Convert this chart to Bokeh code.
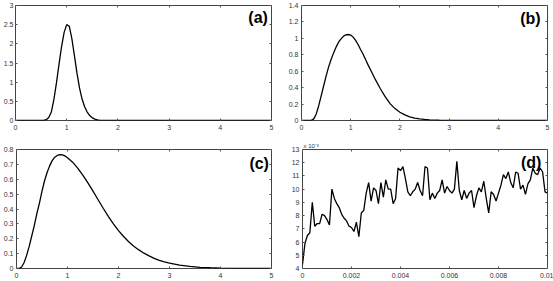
from bokeh.plotting import figure
from bokeh.models import FixedTicker, LinearAxis, Label, Range1d
from bokeh.layouts import row, column
from bokeh.embed import file_html
from bokeh.resources import INLINE

# ---------------- data ----------------
# panel (a)
a_x = [0, 0.5, 0.55, 0.6, 0.65, 0.7, 0.75, 0.8, 0.85, 0.9, 0.95, 1.0, 1.05, 1.1,
       1.15, 1.2, 1.25, 1.3, 1.35, 1.4, 1.45, 1.5, 1.55, 1.6, 1.65, 1.7, 5]
a_y = [0, 0, 0.003, 0.02, 0.08, 0.22, 0.55, 0.98, 1.47, 1.93, 2.30, 2.50, 2.46, 2.14,
       1.70, 1.24, 0.85, 0.56, 0.36, 0.22, 0.13, 0.07, 0.035, 0.015, 0.005, 0, 0]

# panel (b)
b_x = [0, 0.2, 0.25, 0.3, 0.35, 0.4, 0.45, 0.5, 0.55, 0.6, 0.65, 0.7, 0.75, 0.8, 0.85,
       0.9, 0.95, 1.0, 1.05, 1.1, 1.15, 1.2, 1.25, 1.3, 1.35, 1.4, 1.45, 1.5, 1.6, 1.7,
       1.8, 1.9, 2.0, 2.1, 2.2, 2.3, 2.4, 2.5, 2.6, 2.7, 2.8, 2.9, 3.0, 3.2, 5]
b_y = [0, 0.002, 0.02, 0.08, 0.18, 0.30, 0.42, 0.54, 0.65, 0.74, 0.82, 0.89, 0.95, 0.99,
       1.025, 1.042, 1.047, 1.04, 1.015, 0.975, 0.925, 0.865, 0.81, 0.745, 0.68, 0.62,
       0.56, 0.50, 0.39, 0.29, 0.205, 0.145, 0.10, 0.068, 0.045, 0.03, 0.02, 0.013,
       0.008, 0.005, 0.003, 0.0015, 0.0008, 0, 0]

# panel (c)
c_x = [0, 0.05, 0.1, 0.15, 0.2, 0.25, 0.3, 0.35, 0.4, 0.45, 0.5, 0.55, 0.6, 0.65, 0.7,
       0.75, 0.8, 0.85, 0.9, 0.95, 1.0, 1.1, 1.2, 1.3, 1.4, 1.5, 1.6, 1.7, 1.8, 1.9,
       2.0, 2.1, 2.2, 2.3, 2.4, 2.5, 2.6, 2.7, 2.8, 2.9, 3.0, 3.2, 3.4, 3.6, 3.8, 4.0,
       4.2, 4.5, 5]
c_y = [0, 0, 0.01, 0.04, 0.09, 0.15, 0.22, 0.29, 0.37, 0.44, 0.52, 0.59, 0.645, 0.69,
       0.725, 0.748, 0.76, 0.765, 0.764, 0.757, 0.745, 0.715, 0.675, 0.628, 0.576, 0.52,
       0.462, 0.405, 0.35, 0.30, 0.255, 0.215, 0.18, 0.15, 0.125, 0.103, 0.085, 0.068,
       0.055, 0.045, 0.036, 0.023, 0.014, 0.008, 0.005, 0.003, 0.0015, 0.0005, 0]

# panel (d)  (values in units of 1e-3)
d_x = [round(i * 0.0001, 4) for i in range(101)]
d_y = [4.3, 5.9, 6.5, 6.7, 9.0, 7.2, 7.4, 7.4, 8.1, 8.0,
       7.7, 7.3, 10.0, 9.3, 8.9, 8.6, 8.1, 7.8, 7.6, 7.2,
       7.1, 6.8, 7.5, 6.4, 8.2, 8.4, 9.7, 10.5, 9.1, 10.1,
       9.9, 8.9, 10.5, 9.4, 10.7, 10.0, 10.0, 8.9, 9.3, 11.6,
       11.4, 11.7, 10.8, 9.8, 9.5, 9.8, 10.0, 10.5, 9.9, 9.5,
       11.7, 11.6, 9.2, 9.7, 9.3, 9.7, 9.9, 10.7, 9.7, 10.2,
       9.9, 9.7, 10.0, 12.1, 9.9, 9.2, 9.9, 9.3, 9.7, 9.9,
       8.6, 9.5, 10.1, 9.8, 10.6, 9.3, 8.2, 9.8, 9.6, 9.1,
       9.7, 10.3, 11.1, 10.8, 11.3, 10.5, 10.1, 11.3, 11.2, 10.0,
       10.3, 9.6, 10.4, 10.7, 11.6, 11.2, 11.1, 11.6, 11.3, 9.8,
       9.7]

# ticks
ticks_x_05 = [0, 1, 2, 3, 4, 5]
labels_x_05 = ["0", "1", "2", "3", "4", "5"]
ticks_y_a = [0, 0.5, 1, 1.5, 2, 2.5, 3]
labels_y_a = ["0", "0.5", "1", "1.5", "2", "2.5", "3"]
ticks_y_b = [0, 0.2, 0.4, 0.6, 0.8, 1, 1.2, 1.4]
labels_y_b = ["0", "0.2", "0.4", "0.6", "0.8", "1", "1.2", "1.4"]
ticks_y_c = [0, 0.1, 0.2, 0.3, 0.4, 0.5, 0.6, 0.7, 0.8]
labels_y_c = ["0", "0.1", "0.2", "0.3", "0.4", "0.5", "0.6", "0.7", "0.8"]
ticks_x_d = [0, 0.002, 0.004, 0.006, 0.008, 0.01]
labels_x_d = ["0", "0.002", "0.004", "0.006", "0.008", "0.01"]
ticks_y_d = [4, 5, 6, 7, 8, 9, 10, 11, 12, 13]
labels_y_d = ["4", "5", "6", "7", "8", "9", "10", "11", "12", "13"]

panel_names = ["(a)", "(b)", "(c)", "(d)"]
exponent_text = "x 10\u207b\u00b3"

FONT = "Liberation Sans"
TICK_COLOR = "#333333"


def style_axis(ax, ticks, labels, standoff):
    ax.ticker = FixedTicker(ticks=ticks)
    ax.major_label_overrides = {t: l for t, l in zip(ticks, labels)}
    ax.major_label_text_font = FONT
    ax.major_label_text_font_size = "7px"
    ax.major_label_text_color = TICK_COLOR
    ax.major_label_standoff = standoff
    ax.axis_line_color = None
    ax.major_tick_in = 2
    ax.major_tick_out = 0
    ax.major_tick_line_color = "#555555"
    ax.minor_tick_line_color = None


def add_mirror(p, side, ticks):
    ax = LinearAxis(ticker=FixedTicker(ticks=ticks))
    ax.major_label_overrides = {t: "" for t in ticks}
    ax.major_label_text_font_size = "0px"
    ax.major_label_standoff = 0
    ax.axis_line_color = None
    ax.major_tick_in = 2
    ax.major_tick_out = 0
    ax.major_tick_line_color = "#555555"
    ax.minor_tick_line_color = None
    p.add_layout(ax, side)


def make_fig(w, h, bl, br, bt, bb, xr, yr, xt, xl, yt, yl, xs, ys):
    p = figure(width=w, height=h, x_range=Range1d(*xr), y_range=Range1d(*yr),
               output_backend="svg", toolbar_location=None,
               min_border_left=bl, min_border_right=br,
               min_border_top=bt, min_border_bottom=bb)
    p.grid.visible = False
    p.outline_line_color = "#444444"
    p.outline_line_width = 1
    p.background_fill_color = "white"
    p.border_fill_color = "white"
    style_axis(p.xaxis[0], xt, xl, xs)
    style_axis(p.yaxis[0], yt, yl, ys)
    add_mirror(p, "above", xt)
    add_mirror(p, "right", yt)
    return p


def add_tag(p, text, x, y):
    p.add_layout(Label(x=x, y=y, text=text, text_align="right", text_baseline="middle",
                       text_font=FONT, text_font_size="16px", text_font_style="bold",
                       text_color="black"))


pa = make_fig(285, 140, 12, 14, 5, 20, (0, 5), (0, 3),
              ticks_x_05, labels_x_05, ticks_y_a, labels_y_a, 4, 2)
pa.line(a_x, a_y, line_color="black", line_width=1.3)
add_tag(pa, panel_names[0], 4.93, 2.70)

pb = make_fig(268, 140, 15, 6, 5, 20, (0, 5), (0, 1.4),
              ticks_x_05, labels_x_05, ticks_y_b, labels_y_b, 4, 3)
pb.line(b_x, b_y, line_color="black", line_width=1.3)
add_tag(pb, panel_names[1], 4.86, 1.236)

pc = make_fig(285, 141, 16, 14, 9, 13, (0, 5), (0, 0.8),
              ticks_x_05, labels_x_05, ticks_y_c, labels_y_c, 4, 3)
pc.line(c_x, c_y, line_color="black", line_width=1.3)
add_tag(pc, panel_names[2], 4.95, 0.703)

pd = make_fig(268, 141, 17, 6, 9, 13, (0, 0.01), (4, 13),
              ticks_x_d, labels_x_d, ticks_y_d, labels_y_d, 4, 3)
pd.line(d_x, d_y, line_color="black", line_width=1.3)
add_tag(pd, panel_names[3], 0.00975, 12.05)
pd.title.text = exponent_text
pd.title.text_font = FONT
pd.title.text_font_size = "6px"
pd.title.text_font_style = "normal"
pd.title.text_color = TICK_COLOR
pd.title.align = "left"
pd.title.offset = 1
pd.title.standoff = 1

layout = column(row(pa, pb), row(pc, pd))

open("out.html", "w").write(file_html(layout, INLINE))
